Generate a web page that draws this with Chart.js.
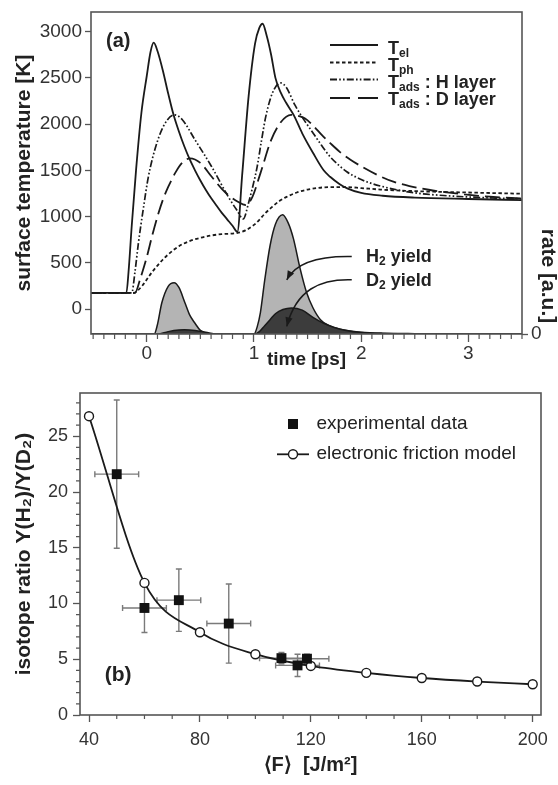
<!DOCTYPE html>
<html><head><meta charset="utf-8">
<script src="https://cdn.jsdelivr.net/npm/chart.js@4.4.1/dist/chart.umd.min.js"></script>
<style>
html,body{margin:0;padding:0;background:#fff;}
#wrap{position:relative;width:558px;height:785px;overflow:hidden;background:#fff;}
canvas{position:absolute;left:0;}
#ca{top:0;width:558px;height:385px;}
#cb{top:385px;width:558px;height:400px;}
</style></head><body>
<div id="wrap"><canvas id="ca" width="558" height="385"></canvas><canvas id="cb" width="558" height="400"></canvas></div>
<script>
const FF = '"Liberation Sans", Arial, Helvetica, sans-serif';
const TXT = '#222';
const TICK = '#333';
const AXIS = '#555';
const LINE = '#1a1a1a';

// ---------- Panel (a) data ----------
const timeTicks = [0, 1, 2, 3];
const tempTicks = [0, 500, 1000, 1500, 2000, 2500, 3000];
const rateTicks = [0];

const elTime = [-0.52,-0.19,-0.17,-0.14,-0.1,-0.05,0.0,0.035,0.065,0.1,0.15,0.2,0.25,0.3,0.35,0.4,0.45,0.5,0.55,0.6,0.65,0.7,0.75,0.8,0.845,0.89,0.95,1.01,1.05,1.08,1.12,1.16,1.2,1.25,1.3,1.37,1.45,1.55,1.65,1.71,1.8,1.87,2.0,2.2,2.5,3.0,3.5];
const elTemp = [175,175,400,900,1500,2120,2520,2780,2880,2790,2580,2330,2100,1920,1760,1620,1500,1390,1290,1200,1120,1040,970,900,835,1450,2300,2870,3040,3085,2950,2750,2500,2340,2230,2100,1900,1690,1500,1430,1350,1305,1255,1225,1205,1190,1178];

const phTime = [-0.52,-0.12,-0.08,-0.04,0.0,0.05,0.1,0.15,0.2,0.3,0.4,0.5,0.6,0.7,0.84,0.92,1.0,1.05,1.1,1.17,1.24,1.3,1.4,1.5,1.6,1.7,1.87,2.0,2.18,2.5,3.0,3.5];
const phTemp = [175,175,205,255,320,400,470,535,590,680,735,770,795,810,822,850,910,965,1030,1105,1170,1210,1260,1292,1310,1318,1318,1308,1292,1275,1260,1247];

const hTime = [-0.52,-0.14,-0.11,-0.078,-0.03,0.015,0.093,0.17,0.26,0.33,0.45,0.6,0.76,0.84,0.9,0.95,1.0,1.03,1.07,1.11,1.17,1.247,1.3,1.383,1.47,1.554,1.63,1.71,1.866,2.0,2.18,2.49,2.8,3.25,3.5];
const hTemp = [175,175,400,712,1100,1430,1790,2007,2100,2050,1830,1550,1215,1070,975,1150,1380,1540,1820,2080,2330,2445,2400,2204,2040,1899,1770,1647,1485,1400,1330,1258,1225,1200,1192];

const dTime = [-0.52,-0.11,-0.06,0.0,0.05,0.1,0.15,0.2,0.27,0.33,0.404,0.5,0.606,0.7,0.76,0.85,0.92,0.98,1.06,1.16,1.25,1.346,1.42,1.477,1.55,1.63,1.71,1.8,1.9,2.02,2.15,2.3,2.45,2.63,2.8,2.96,3.2,3.5];
const dTemp = [175,175,330,560,790,1000,1180,1320,1480,1580,1630,1580,1430,1300,1233,1160,1125,1200,1467,1827,2020,2100,2085,2061,1985,1885,1795,1700,1615,1530,1450,1377,1330,1290,1262,1240,1215,1195];

const h2Time = [-0.52,0.07,0.1,0.14,0.2,0.255,0.3,0.357,0.4,0.45,0.5,0.56,0.65,1.0,1.03,1.06,1.1,1.15,1.2,1.267,1.32,1.368,1.43,1.49,1.55,1.62,1.7,1.8,1.9,2.0,2.2,2.5,3.0,3.5];
const h2Rate = [0,0,0.08,0.26,0.40,0.43,0.39,0.26,0.16,0.09,0.03,0.005,0,0,0.06,0.18,0.45,0.74,0.92,1.0,0.93,0.8,0.55,0.35,0.22,0.12,0.07,0.04,0.025,0.015,0.007,0.003,0,0];

const d2Time = [-0.52,0.1,0.2,0.3,0.35,0.45,0.55,0.65,1.0,1.05,1.1,1.15,1.2,1.27,1.35,1.45,1.55,1.65,1.75,1.85,2.0,2.2,2.5,3.5];
const d2Rate = [0,0,0.02,0.033,0.035,0.03,0.015,0,0,0.02,0.07,0.12,0.17,0.205,0.218,0.2,0.14,0.09,0.055,0.032,0.012,0.004,0,0];

// annotation anchors (time [ps], temperature [K])
const h2Label = {x: 2.045, y: 575};
const d2Label = {x: 2.045, y: 316};
const h2Arrow = [{x:1.912,y:568},{x:1.617,y:575},{x:1.393,y:510},{x:1.306,y:316}];
const d2Arrow = [{x:1.912,y:316},{x:1.617,y:327},{x:1.393,y:208},{x:1.306,y:-188}];

// ---------- Panel (b) data ----------
const fluenceTicks = [40, 80, 120, 160, 200];
const ratioTicks = [0, 5, 10, 15, 20, 25];
const modelF = [40, 60, 80, 100, 120, 140, 160, 180, 200];
const modelRatio = [26.8, 11.85, 7.42, 5.45, 4.4, 3.78, 3.32, 3.0, 2.76];
const expF = [50, 60, 72.4, 90.4, 109.4, 115.2, 118.6];
const expRatio = [21.6, 9.6, 10.3, 8.2, 5.1, 4.45, 5.05];
const expFErr = [7.9, 7.9, 7.9, 7.9, 7.9, 7.9, 7.9];
const expRatioErr = [6.65, 2.2, 2.8, 3.55, 0.5, 1.0, 0.4];

function pts(xs, ys) { return xs.map((x, i) => ({x: x, y: ys[i]})); }

function rich(ctx, x, yBase, parts, size, bold, color) {
  let cx = x;
  ctx.fillStyle = color;
  ctx.textAlign = 'left';
  ctx.textBaseline = 'alphabetic';
  for (const p of parts) {
    const s = p.sub ? Math.round(size * 0.64) : size;
    ctx.font = (bold ? 'bold ' : '') + s + 'px ' + FF;
    ctx.fillText(p.t, cx, yBase + (p.sub ? size * 0.17 : 0));
    cx += ctx.measureText(p.t).width;
  }
}

function curvedArrow(ctx, P) {
  ctx.beginPath();
  ctx.moveTo(P[0].x, P[0].y);
  ctx.bezierCurveTo(P[1].x, P[1].y, P[2].x, P[2].y, P[3].x, P[3].y);
  ctx.stroke();
  const ang = Math.atan2(P[3].y - P[2].y, P[3].x - P[2].x);
  const L = 9, W = 3.6;
  const bx = P[3].x - L * Math.cos(ang), by = P[3].y - L * Math.sin(ang);
  ctx.beginPath();
  ctx.moveTo(P[3].x, P[3].y);
  ctx.lineTo(bx + W * Math.sin(ang), by - W * Math.cos(ang));
  ctx.lineTo(bx - W * Math.sin(ang), by + W * Math.cos(ang));
  ctx.closePath();
  ctx.fill();
}

const decoA = {
  id: 'decoA',
  afterDraw(chart) {
    const {ctx, chartArea: a, scales} = chart;
    const x = scales.x, y = scales.y;
    ctx.save();
    ctx.setLineDash([]);
    // frame
    ctx.strokeStyle = AXIS; ctx.lineWidth = 1.6;
    ctx.strokeRect(a.left, a.top, a.right - a.left, a.bottom - a.top);
    // minor ticks on time axis
    ctx.lineWidth = 1.2; ctx.beginPath();
    for (let i = -5; i <= 35; i++) {
      if (i % 10 === 0) continue;
      const px = x.getPixelForValue(i / 10);
      if (px < a.left || px > a.right) continue;
      ctx.moveTo(px, a.bottom); ctx.lineTo(px, a.bottom + 5);
    }
    ctx.stroke();
    // right axis title
    ctx.save();
    ctx.translate(548, 276); ctx.rotate(Math.PI / 2);
    ctx.fillStyle = TXT; ctx.font = 'bold 21px ' + FF;
    ctx.textAlign = 'center'; ctx.textBaseline = 'middle';
    ctx.fillText('rate [a.u.]', 0, 0);
    ctx.restore();
    // panel label
    ctx.fillStyle = TXT; ctx.font = 'bold 20px ' + FF;
    ctx.textBaseline = 'middle'; ctx.textAlign = 'left';
    ctx.fillText('(a)', 106, 41);
    // legend
    const leg = [
      {dash: [], parts: [{t:'T'},{t:'el',sub:1}]},
      {dash: [3.5,2.5], parts: [{t:'T'},{t:'ph',sub:1}]},
      {dash: [7,2.2,1.6,2.2,1.6,2.2], parts: [{t:'T'},{t:'ads',sub:1},{t:' : H layer'}]},
      {dash: [20,8], parts: [{t:'T'},{t:'ads',sub:1},{t:' : D layer'}]}
    ];
    const lineYs = [45, 62.5, 79.5, 98], textYs = [47.5, 64.5, 81.5, 98.5];
    leg.forEach((r, i) => {
      ctx.strokeStyle = LINE; ctx.lineWidth = 1.8; ctx.setLineDash(r.dash);
      ctx.beginPath(); ctx.moveTo(330, lineYs[i]); ctx.lineTo(378, lineYs[i]); ctx.stroke();
      ctx.setLineDash([]);
      rich(ctx, 388, textYs[i] + 6.4, r.parts, 18, true, TXT);
    });
    // yield labels & arrows
    const lx = x.getPixelForValue(h2Label.x);
    rich(ctx, lx, y.getPixelForValue(h2Label.y) + 6.4, [{t:'H'},{t:'2',sub:1},{t:' yield'}], 18, true, TXT);
    rich(ctx, lx, y.getPixelForValue(d2Label.y) + 6.4, [{t:'D'},{t:'2',sub:1},{t:' yield'}], 18, true, TXT);
    ctx.strokeStyle = LINE; ctx.fillStyle = LINE; ctx.lineWidth = 1.5;
    const toPx = p => ({x: x.getPixelForValue(p.x), y: y.getPixelForValue(p.y)});
    curvedArrow(ctx, h2Arrow.map(toPx));
    curvedArrow(ctx, d2Arrow.map(toPx));
    ctx.restore();
  }
};

const tickFontA = {family: FF, size: 19};
const tickFontB = {family: FF, size: 18};
const titleFont = (s) => ({family: FF, size: s, weight: 'bold'});

new Chart(document.getElementById('ca'), {
  type: 'line',
  data: {datasets: [
    {label: 'T_el', data: pts(elTime, elTemp), borderColor: LINE, borderWidth: 1.8, pointRadius: 0, cubicInterpolationMode: 'monotone', yAxisID: 'y', fill: false},
    {label: 'T_ph', data: pts(phTime, phTemp), borderColor: LINE, borderWidth: 1.8, borderDash: [3.5,2.5], pointRadius: 0, cubicInterpolationMode: 'monotone', yAxisID: 'y', fill: false},
    {label: 'T_ads : H layer', data: pts(hTime, hTemp), borderColor: LINE, borderWidth: 1.7, borderDash: [7,2.2,1.6,2.2,1.6,2.2], pointRadius: 0, cubicInterpolationMode: 'monotone', yAxisID: 'y', fill: false},
    {label: 'T_ads : D layer', data: pts(dTime, dTemp), borderColor: LINE, borderWidth: 1.8, borderDash: [15,6], pointRadius: 0, cubicInterpolationMode: 'monotone', yAxisID: 'y', fill: false},
    {label: 'D2 yield', data: pts(d2Time, d2Rate), borderColor: LINE, borderWidth: 1.5, backgroundColor: '#3c3c3c', pointRadius: 0, cubicInterpolationMode: 'monotone', yAxisID: 'y2', fill: 'origin'},
    {label: 'H2 yield', data: pts(h2Time, h2Rate), borderColor: LINE, borderWidth: 1.5, backgroundColor: '#b4b4b4', pointRadius: 0, cubicInterpolationMode: 'monotone', yAxisID: 'y2', fill: 'origin'}
  ]},
  options: {
    responsive: false, animation: false, devicePixelRatio: 1,
    layout: {padding: {top: 12, left: 0, right: 0, bottom: 0}, autoPadding: false},
    plugins: {legend: {display: false}, tooltip: {enabled: false}},
    scales: {
      x: {
        type: 'linear', position: 'bottom', min: -0.52, max: 3.5,
        afterBuildTicks: s => { s.ticks = timeTicks.map(v => ({value: v})); },
        afterFit: s => { s.height = 51; s.paddingLeft = 0; s.paddingRight = 0; },
        grid: {drawOnChartArea: false, drawTicks: true, tickLength: 8, tickColor: AXIS, tickWidth: 1.3},
        border: {display: false},
        ticks: {padding: 0, color: TICK, font: tickFontA, maxRotation: 0, autoSkip: false, callback: v => String(v)},
        title: {display: true, text: 'time [ps]', color: TXT, font: titleFont(19), padding: {top: 0, bottom: 14}}
      },
      y: {
        type: 'linear', position: 'left', min: -270, max: 3212,
        afterBuildTicks: s => { s.ticks = tempTicks.map(v => ({value: v})); },
        afterFit: s => { s.width = 91; s.paddingTop = 0; s.paddingBottom = 0; },
        grid: {drawOnChartArea: false, drawTicks: true, tickLength: 6, tickColor: AXIS, tickWidth: 1.3},
        border: {display: false},
        ticks: {padding: 3, color: TICK, font: tickFontA, autoSkip: false, callback: v => String(v)},
        title: {display: true, text: 'surface temperature [K]', color: TXT, font: titleFont(21), padding: {top: 12, bottom: 0}}
      },
      y2: {
        type: 'linear', position: 'right', min: 0, max: 2.7,
        afterBuildTicks: s => { s.ticks = rateTicks.map(v => ({value: v})); },
        afterFit: s => { s.width = 36; s.paddingTop = 0; s.paddingBottom = 0; },
        grid: {drawOnChartArea: false, drawTicks: true, tickLength: 6, tickColor: AXIS, tickWidth: 1.3},
        border: {display: false},
        ticks: {padding: 3, color: TICK, font: tickFontA, autoSkip: false, callback: v => String(v)},
        title: {display: false, text: 'rate [a.u.]'}
      }
    }
  },
  plugins: [decoA]
});

// ---------- Panel (b) ----------
const decoB = {
  id: 'decoB',
  beforeDatasetsDraw(chart) {
    const {ctx, scales: {x, y}} = chart;
    ctx.save();
    ctx.strokeStyle = '#7a7a7a'; ctx.lineWidth = 1.4;
    ctx.beginPath();
    for (let i = 0; i < expF.length; i++) {
      const px = x.getPixelForValue(expF[i]), py = y.getPixelForValue(expRatio[i]);
      const xl = x.getPixelForValue(expF[i] - expFErr[i]), xr = x.getPixelForValue(expF[i] + expFErr[i]);
      const yt = y.getPixelForValue(expRatio[i] + expRatioErr[i]), yb = y.getPixelForValue(expRatio[i] - expRatioErr[i]);
      ctx.moveTo(xl, py); ctx.lineTo(xr, py);
      ctx.moveTo(xl, py - 3); ctx.lineTo(xl, py + 3);
      ctx.moveTo(xr, py - 3); ctx.lineTo(xr, py + 3);
      ctx.moveTo(px, yt); ctx.lineTo(px, yb);
      ctx.moveTo(px - 3, yt); ctx.lineTo(px + 3, yt);
      ctx.moveTo(px - 3, yb); ctx.lineTo(px + 3, yb);
    }
    ctx.stroke();
    ctx.restore();
  },
  afterDraw(chart) {
    const {ctx, chartArea: a, scales: {x, y}} = chart;
    ctx.save();
    ctx.setLineDash([]);
    ctx.strokeStyle = AXIS; ctx.lineWidth = 1.6;
    ctx.strokeRect(a.left, a.top, a.right - a.left, a.bottom - a.top);
    ctx.lineWidth = 1.2; ctx.beginPath();
    for (let v = 40; v <= 200; v += 10) {
      if (v % 40 === 0) continue;
      const px = x.getPixelForValue(v);
      ctx.moveTo(px, a.bottom); ctx.lineTo(px, a.bottom + 4);
    }
    for (let v = 1; v <= 28; v++) {
      if (v % 5 === 0) continue;
      const py = y.getPixelForValue(v);
      ctx.moveTo(a.left, py); ctx.lineTo(a.left - 4, py);
    }
    ctx.stroke();
    // legend
    ctx.fillStyle = '#111';
    ctx.fillRect(288, 34, 10, 10);
    ctx.strokeStyle = LINE; ctx.lineWidth = 1.8;
    ctx.beginPath(); ctx.moveTo(277, 69.3); ctx.lineTo(309, 69.3); ctx.stroke();
    ctx.beginPath(); ctx.arc(293, 69.3, 4.5, 0, Math.PI * 2);
    ctx.fillStyle = '#fff'; ctx.fill(); ctx.lineWidth = 1.4; ctx.stroke();
    ctx.fillStyle = TXT; ctx.font = '19px ' + FF; ctx.textAlign = 'left'; ctx.textBaseline = 'middle';
    ctx.fillText('experimental data', 316.5, 39);
    ctx.fillText('electronic friction model', 316.5, 69);
    ctx.font = 'bold 21px ' + FF;
    ctx.fillText('(b)', 104.7, 290);
    ctx.restore();
  }
};

new Chart(document.getElementById('cb'), {
  type: 'line',
  data: {datasets: [
    {label: 'experimental data', data: pts(expF, expRatio), showLine: false, pointStyle: 'rect', pointRadius: 7, backgroundColor: '#111', borderColor: '#111', borderWidth: 0, pointBackgroundColor: '#111', pointBorderWidth: 0},
    {label: 'electronic friction model', data: pts(modelF, modelRatio), borderColor: LINE, borderWidth: 1.8, cubicInterpolationMode: 'monotone', pointStyle: 'circle', pointRadius: 4.5, pointBackgroundColor: '#fff', pointBorderColor: LINE, pointBorderWidth: 1.4, fill: false}
  ]},
  options: {
    responsive: false, animation: false, devicePixelRatio: 1,
    layout: {padding: {top: 8, left: 0, right: 17, bottom: 0}, autoPadding: false},
    plugins: {legend: {display: false}, tooltip: {enabled: false}},
    scales: {
      x: {
        type: 'linear', position: 'bottom', min: 36.75, max: 203,
        afterBuildTicks: s => { s.ticks = fluenceTicks.map(v => ({value: v})); },
        afterFit: s => { s.height = 70; s.paddingLeft = 0; s.paddingRight = 0; },
        grid: {drawOnChartArea: false, drawTicks: true, tickLength: 7, tickColor: AXIS, tickWidth: 1.3},
        border: {display: false},
        ticks: {padding: 7, color: TICK, font: tickFontB, maxRotation: 0, autoSkip: false, callback: v => String(v)},
        title: {display: true, text: '\u27E8F\u27E9  [J/m\u00B2]', color: TXT, font: titleFont(20), padding: {top: 0, bottom: 8}}
      },
      y: {
        type: 'linear', position: 'left', min: 0, max: 28.88,
        afterBuildTicks: s => { s.ticks = ratioTicks.map(v => ({value: v})); },
        afterFit: s => { s.width = 80; s.paddingTop = 0; s.paddingBottom = 0; },
        grid: {drawOnChartArea: false, drawTicks: true, tickLength: 7, tickColor: AXIS, tickWidth: 1.3},
        border: {display: false},
        ticks: {padding: 5, color: TICK, font: tickFontB, autoSkip: false, callback: v => String(v)},
        title: {display: true, text: 'isotope ratio Y(H\u2082)/Y(D\u2082)', color: TXT, font: titleFont(21), padding: {top: 12, bottom: 0}}
      }
    }
  },
  plugins: [decoB]
});
</script>
</body></html>
